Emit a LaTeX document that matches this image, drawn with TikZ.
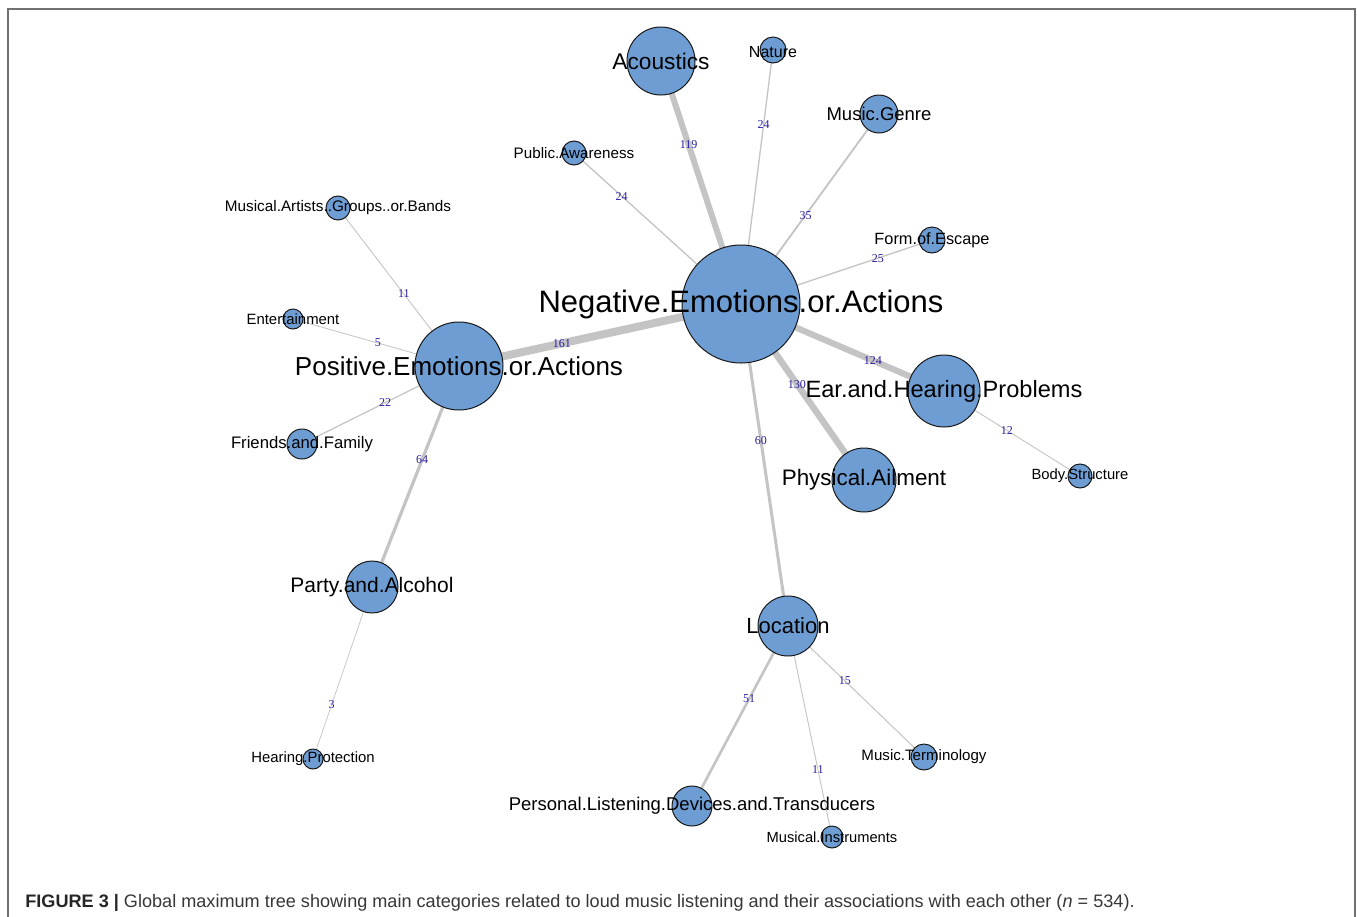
\documentclass[tikz,border=0pt]{standalone}
\usepackage{fontspec}
\setmainfont{Liberation Sans}
\newfontfamily\edgefont{Liberation Serif}
\usetikzlibrary{backgrounds}
\definecolor{nodeblue}{RGB}{110,157,211}
\definecolor{edgegray}{RGB}{196,196,196}
\definecolor{elabel}{RGB}{40,30,160}
\definecolor{framegray}{RGB}{112,112,112}
\definecolor{captext}{RGB}{55,55,55}
\begin{document}
\begin{tikzpicture}[x=0.5pt,y=-0.5pt,
  vert/.style={circle,draw=black!90,line width=0.5pt,fill=nodeblue,inner sep=0pt,minimum size=#1pt},
  lbl/.style={font=\fontsize{#1}{#1}\selectfont,inner sep=0pt,text=black},
  link/.style={draw=edgegray,line width=#1pt},
  elab/.style={font=\edgefont\fontsize{6}{6.5}\selectfont,text=elabel,inner sep=0pt},
  framestyle/.style={draw=framegray,line width=1pt}]
\useasboundingbox (0,0) rectangle (1357,917);
\begin{scope}[on background layer]
  \fill[white] (0,0) rectangle (1357,917);
\end{scope}
% frame
\draw[framestyle] (8,917) -- (8,9) -- (1355,9) -- (1355,917);
% vertices (radius in px)
\node[vert=59] (neg)  at (741,304) {};
\node[vert=34] (aco)  at (661,61)  {};
\node[vert=13] (nat)  at (773,50)  {};
\node[vert=19] (gen)  at (879,114) {};
\node[vert=12] (pub)  at (574,153) {};
\node[vert=13] (esc)  at (932,240) {};
\node[vert=12] (art)  at (338,208) {};
\node[vert=10] (ent)  at (293,319) {};
\node[vert=44] (pos)  at (459,366) {};
\node[vert=15] (fam)  at (302,444) {};
\node[vert=36] (ear)  at (944,391) {};
\node[vert=12] (body) at (1080,476) {};
\node[vert=32] (phy)  at (864,480) {};
\node[vert=26] (par)  at (372,587) {};
\node[vert=10] (prot) at (313,759) {};
\node[vert=30] (loc)  at (788,626) {};
\node[vert=13] (term) at (924,757) {};
\node[vert=20] (pers) at (692,806) {};
\node[vert=11] (ins)  at (832,837) {};
% edges
\begin{scope}[on background layer]
  \draw[link=4.0]  (neg.center) -- node[elab,pos=0.635]{161} (pos.center);
  \draw[link=3.0]  (neg.center) -- node[elab,pos=0.654]{119} (aco.center);
  \draw[link=0.65] (neg.center) -- node[elab,pos=0.705]{24} (nat.center);
  \draw[link=0.65] (neg.center) -- node[elab,pos=0.715]{24} (pub.center);
  \draw[link=0.9]  (neg.center) -- node[elab,pos=0.468]{35} (gen.center);
  \draw[link=0.65] (neg.center) -- node[elab,pos=0.717]{25} (esc.center);
  \draw[link=3.1]  (neg.center) -- node[elab,pos=0.65]{124} (ear.center);
  \draw[link=3.25] (neg.center) -- node[elab,pos=0.455]{130} (phy.center);
  \draw[link=1.5]  (neg.center) -- node[elab,pos=0.425]{60} (loc.center);
  \draw[link=0.45] (pos.center) -- node[elab,pos=0.456]{11} (art.center);
  \draw[link=0.4]  (pos.center) -- node[elab,pos=0.488]{5} (ent.center);
  \draw[link=0.6]  (pos.center) -- node[elab,pos=0.471]{22} (fam.center);
  \draw[link=1.6]  (pos.center) -- node[elab,pos=0.425]{64} (par.center);
  \draw[link=0.35] (par.center) -- node[elab,pos=0.686]{3} (prot.center);
  \draw[link=0.45] (ear.center) -- node[elab,pos=0.463]{12} (body.center);
  \draw[link=1.3]  (loc.center) -- node[elab,pos=0.406]{51} (pers.center);
  \draw[link=0.5]  (loc.center) -- node[elab,pos=0.419]{15} (term.center);
  \draw[link=0.45] (loc.center) -- node[elab,pos=0.678]{11} (ins.center);
\end{scope}
% vertex labels
\node[lbl=15.5] (neg-l)  at (neg.center)  {Negative.Emotions.or.Actions};
\node[lbl=11.35] (aco-l) at (aco.center)  {Acoustics};
\node[lbl=8]    (nat-l)  at ([yshift=-1pt]nat.center)  {Nature};
\node[lbl=9.25] (gen-l)  at (gen.center)  {Music.Genre};
\node[lbl=7.6]  (pub-l)  at (pub.center)  {Public.Awareness};
\node[lbl=8.15] (esc-l)  at (esc.center)  {Form.of.Escape};
\node[lbl=7.65] (art-l)  at (art.center)  {Musical.Artists..Groups..or.Bands};
\node[lbl=7.45] (ent-l)  at (ent.center)  {Entertainment};
\node[lbl=13]   (pos-l)  at (pos.center)  {Positive.Emotions.or.Actions};
\node[lbl=8.35] (fam-l)  at (fam.center)  {Friends.and.Family};
\node[lbl=11.8] (ear-l)  at (ear.center)  {Ear.and.Hearing.Problems};
\node[lbl=7.4]  (body-l) at (body.center) {Body.Structure};
\node[lbl=11.2] (phy-l)  at (phy.center)  {Physical.Ailment};
\node[lbl=10.5] (par-l)  at (par.center)  {Party.and.Alcohol};
\node[lbl=7.45] (prot-l) at (prot.center) {Hearing.Protection};
\node[lbl=11]   (loc-l)  at (loc.center)  {Location};
\node[lbl=7.55] (term-l) at (term.center) {Music.Terminology};
\node[lbl=9.25] (pers-l) at (pers.center) {Personal.Listening.Devices.and.Transducers};
\node[lbl=7.35] (ins-l)  at (ins.center)  {Musical.Instruments};
% caption
\node[anchor=base west,inner sep=0pt,text=captext,font=\fontsize{9.05}{11}\selectfont] (cap) at (25,907)
  {{\bfseries\color{black!85}FIGURE 3 |} Global maximum tree showing main categories related to loud music listening and their associations with each other (\textit{n} = 534).};
\end{tikzpicture}
\end{document}
